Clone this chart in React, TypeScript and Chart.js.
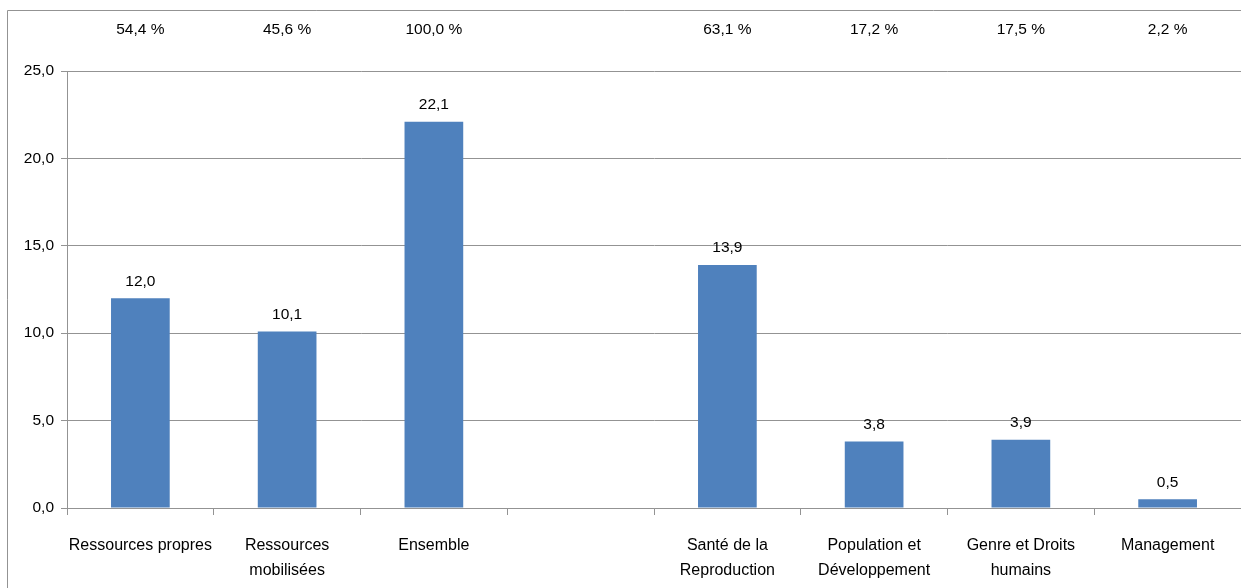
import React, { useEffect, useRef } from "react";
import { Chart, registerables } from "chart.js";

Chart.register(...registerables);

const categories: (string | string[])[] = [
  "Ressources propres",
  ["Ressources", "mobilisées"],
  "Ensemble",
  "",
  ["Santé de la", "Reproduction"],
  ["Population et", "Développement"],
  ["Genre et Droits", "humains"],
  "Management",
];
const values: (number | null)[] = [12.0, 10.1, 22.1, null, 13.9, 3.8, 3.9, 0.5];
const shares: string[] = ["54,4 %", "45,6 %", "100,0 %", "", "63,1 %", "17,2 %", "17,5 %", "2,2 %"];
const yTicks = [0, 5, 10, 15, 20, 25];

const FONT = "'Liberation Sans', Arial, sans-serif";
const GRID = "#939393";
const fmt = (v: number) => v.toFixed(1).replace(".", ",");

const overlay = {
  id: "overlay",
  beforeDraw(chart: any) {
    const ctx = chart.ctx;
    ctx.save();
    ctx.fillStyle = "#ffffff";
    ctx.fillRect(0, 0, chart.width, chart.height);
    ctx.strokeStyle = GRID;
    ctx.lineWidth = 1;
    ctx.beginPath();
    ctx.moveTo(7.5, chart.height + 5);
    ctx.lineTo(7.5, 10.5);
    ctx.lineTo(chart.width + 5, 10.5);
    ctx.stroke();
    ctx.restore();
  },
  afterDatasetsDraw(chart: any) {
    const ctx = chart.ctx;
    const xs = chart.scales.x;
    const ys = chart.scales.y;
    ctx.save();
    ctx.fillStyle = "#000";
    ctx.font = `15.5px ${FONT}`;
    ctx.textAlign = "center";
    ctx.textBaseline = "middle";
    shares.forEach((s, i) => {
      if (!s) return;
      ctx.fillText(s, xs.getPixelForValue(i), 30);
    });
    values.forEach((v, i) => {
      if (v === null) return;
      ctx.fillText(fmt(v), xs.getPixelForValue(i), ys.getPixelForValue(v) - 17);
    });
    ctx.restore();
  },
};

export default function App() {
  const ref = useRef<HTMLCanvasElement>(null);
  useEffect(() => {
    if (!ref.current) return;
    const chart = new Chart(ref.current, {
      type: "bar",
      data: {
        labels: categories,
        datasets: [
          {
            data: values,
            backgroundColor: "#4F81BD",
            barPercentage: 0.4,
            categoryPercentage: 1,
          },
        ],
      },
      options: {
        responsive: false,
        animation: false,
        layout: { padding: { left: 0, top: 71, right: 0, bottom: 0 } },
        plugins: { legend: { display: false }, tooltip: { enabled: false } },
        scales: {
          x: {
            grid: {
              offset: true,
              drawOnChartArea: false,
              drawTicks: true,
              tickLength: 7,
              color: GRID,
            },
            border: { color: GRID },
            ticks: {
              color: "#000",
              font: { family: FONT, size: 16, lineHeight: 1.5625 },
              padding: 18,
              maxRotation: 0,
              autoSkip: false,
            },
            afterFit: (s: any) => {
              s.height = 80;
            },
          },
          y: {
            min: 0,
            max: 25,
            afterBuildTicks: (s: any) => {
              s.ticks = yTicks.map((v) => ({ value: v }));
            },
            grid: { color: GRID, tickLength: 6 },
            border: { color: GRID },
            ticks: {
              color: "#000",
              font: { family: FONT, size: 15.5 },
              padding: 7,
              callback: (v: any) => fmt(Number(v)),
            },
            afterFit: (s: any) => {
              s.width = 67;
            },
          },
        },
      },
      plugins: [overlay],
    });
    return () => chart.destroy();
  }, []);
  return (
    <div style={{ position: "fixed", left: 0, top: 0, width: 1241, height: 588 }}>
      <canvas ref={ref} width={1241} height={588} style={{ width: 1241, height: 588, display: "block" }} />
    </div>
  );
}
